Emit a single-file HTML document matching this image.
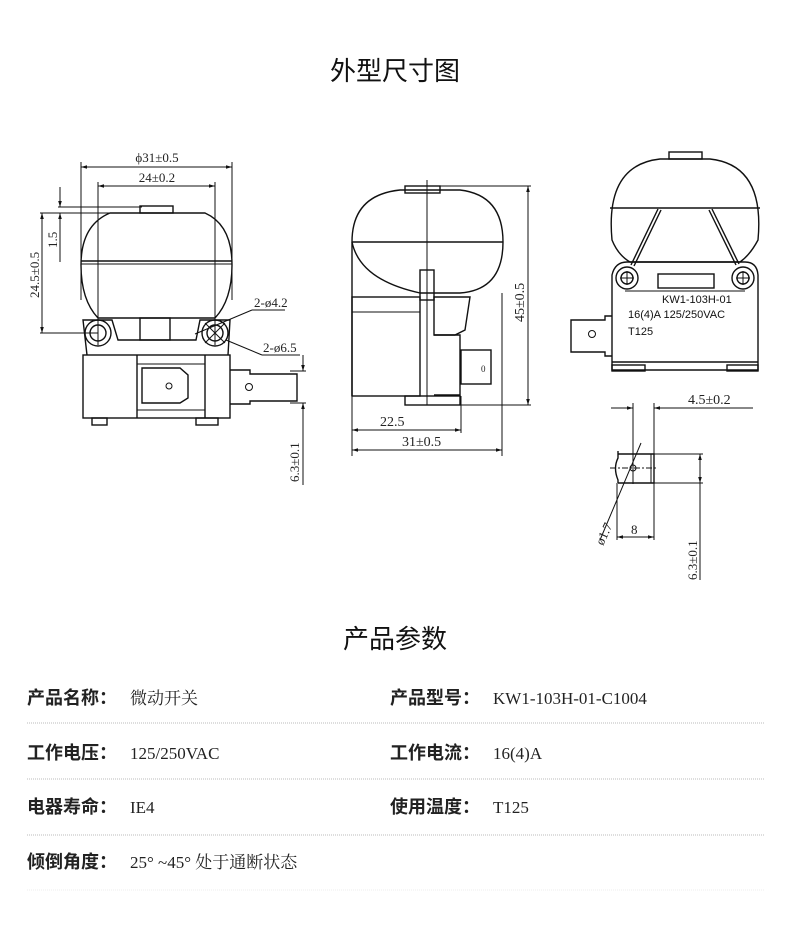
<!DOCTYPE html>
<html><head><meta charset="utf-8"><style>
html,body{margin:0;padding:0;background:#fff;}
svg{display:block}
.t{font-family:"Liberation Serif","Noto Serif CJK SC",serif;fill:#222}
.d{stroke:#111;stroke-width:1;fill:none}
.b{stroke:#111;stroke-width:1.4;fill:none}
.lab{font-family:"Liberation Sans","Noto Sans CJK SC",sans-serif;font-weight:bold;font-size:18px;fill:#222}
.val{font-family:"Liberation Serif","Noto Serif CJK SC",serif;font-size:17px;fill:#222}
</style></head><body>
<svg width="790" height="945" viewBox="0 0 790 945" xmlns="http://www.w3.org/2000/svg">
<defs><marker id="a" viewBox="0 0 10 10" refX="10" refY="5" markerWidth="8" markerHeight="6" orient="auto-start-reverse"><path d="M0,2 L10,5 L0,8z" fill="#111"/></marker></defs>
<text x="395" y="80" text-anchor="middle" style="font-family:'Liberation Sans','Noto Sans CJK SC',sans-serif;font-size:26px;fill:#111">外型尺寸图</text>
<text x="395" y="648" text-anchor="middle" style="font-family:'Liberation Sans','Noto Sans CJK SC',sans-serif;font-size:26px;fill:#111">产品参数</text>

<!-- Drawing 1 -->
<g>
<line class="d" x1="81" y1="167" x2="232" y2="167" marker-start="url(#a)" marker-end="url(#a)"/>
<text class="t" x="157" y="162" text-anchor="middle" font-size="13">ϕ31±0.5</text>
<line class="d" x1="98" y1="186" x2="215" y2="186" marker-start="url(#a)" marker-end="url(#a)"/>
<text class="t" x="157" y="182" text-anchor="middle" font-size="13">24±0.2</text>
<line class="d" x1="81" y1="162" x2="81" y2="300"/><line class="d" x1="232" y1="162" x2="232" y2="300"/>
<line class="d" x1="98" y1="182" x2="98" y2="345"/><line class="d" x1="215" y1="182" x2="215" y2="345"/>
<line class="d" x1="58" y1="207" x2="142" y2="207"/><line class="d" x1="40" y1="213" x2="130" y2="213"/>
<line class="d" x1="60" y1="187" x2="60" y2="207" marker-end="url(#a)"/><line class="d" x1="60" y1="226" x2="60" y2="213" marker-end="url(#a)"/>
<line class="d" x1="60" y1="213" x2="60" y2="262"/>
<text class="t" font-size="13" transform="translate(57,248) rotate(-90)">1.5</text>
<line class="d" x1="42" y1="213" x2="42" y2="333" marker-start="url(#a)" marker-end="url(#a)"/>
<line class="d" x1="40" y1="333" x2="98" y2="333"/>
<text class="t" font-size="13" transform="translate(39,298) rotate(-90)">24.5±0.5</text>
<rect class="b" x="140" y="206" width="33" height="7"/>
<path class="b" d="M110,213 L205,213 Q232,225 232,265 Q232,300 215,318 L98,318 Q81,300 81,265 Q81,225 110,213Z"/>
<line class="b" x1="81" y1="261" x2="232" y2="261"/><line class="d" x1="81" y1="264" x2="232" y2="264"/>
<path class="b" d="M87,355 L83,320 L112,320 L118,340 L196,340 L200,320 L230,320 L228,355"/>
<rect class="b" x="140" y="318" width="30" height="22"/>
<circle class="b" cx="98" cy="333" r="13"/><circle class="b" cx="98" cy="333" r="8"/>
<circle class="b" cx="215" cy="333" r="13"/><circle class="b" cx="215" cy="333" r="8"/>
<line class="d" x1="205" y1="323" x2="225" y2="343"/><line class="d" x1="205" y1="343" x2="225" y2="323"/>
<rect class="b" x="83" y="355" width="147" height="63"/>
<line class="b" x1="137" y1="355" x2="137" y2="418"/><line class="b" x1="205" y1="355" x2="205" y2="418"/>
<line class="d" x1="137" y1="364" x2="205" y2="364"/><line class="d" x1="137" y1="410" x2="205" y2="410"/>
<path class="b" d="M142,368 L180,368 L188,375 L188,398 L180,403 L142,403Z"/>
<circle class="d" cx="169" cy="386" r="3"/>
<path class="b" d="M230,370 L250,370 L250,374 L297,374 L297,401 L250,401 L250,404 L230,404"/>
<circle class="d" cx="249" cy="387" r="3.5"/>
<rect class="b" x="92" y="418" width="15" height="7"/><rect class="b" x="196" y="418" width="22" height="7"/>
<line class="d" x1="290" y1="371" x2="306" y2="371"/><line class="d" x1="290" y1="403" x2="306" y2="403"/>
<line class="d" x1="303" y1="355" x2="303" y2="371" marker-end="url(#a)"/>
<line class="d" x1="303" y1="403" x2="303" y2="485"/>
<line class="d" x1="303" y1="420" x2="303" y2="403" marker-end="url(#a)"/>
<text class="t" font-size="13" transform="translate(299,482) rotate(-90)">6.3±0.1</text>
<line class="d" x1="195" y1="334" x2="252" y2="310"/><line class="d" x1="252" y1="310" x2="285" y2="310"/>
<text class="t" x="254" y="307" font-size="13">2-ø4.2</text>
<line class="d" x1="226" y1="340" x2="262" y2="355"/><line class="d" x1="262" y1="355" x2="300" y2="355"/>
<text class="t" x="263" y="352" font-size="13">2-ø6.5</text>
</g>

<!-- Drawing 2 -->
<g>
<rect class="b" x="405" y="186" width="35" height="7"/>
<path class="b" d="M352,242 Q352,195 400,190 L460,190 Q503,195 503,242 Q503,290 460,293 L420,293 Q360,280 352,242Z"/>
<line class="b" x1="352" y1="242" x2="503" y2="242"/>
<rect class="b" x="352" y="297" width="68" height="99"/>
<line class="b" x1="352" y1="242" x2="352" y2="396"/>
<line class="d" x1="352" y1="312" x2="420" y2="312"/>
<rect class="b" x="420" y="270" width="14" height="30"/>
<path class="b" d="M434,297 L470,297 L465,330 L455,335 L434,335Z"/>
<path class="b" d="M434,335 L460,335 L460,395 L434,395"/>
<rect class="b" x="461" y="350" width="30" height="34"/>
<text class="t" x="481" y="372" font-size="9">0</text>
<rect class="b" x="405" y="396" width="55" height="9"/>
<line class="d" x1="427" y1="180" x2="427" y2="405"/>
<line class="d" x1="440" y1="186" x2="531" y2="186"/><line class="d" x1="460" y1="405" x2="531" y2="405"/>
<line class="d" x1="528" y1="186" x2="528" y2="405" marker-start="url(#a)" marker-end="url(#a)"/>
<text class="t" font-size="14" transform="translate(524,322) rotate(-90)">45±0.5</text>
<line class="d" x1="352" y1="396" x2="352" y2="456"/><line class="d" x1="461" y1="396" x2="461" y2="433"/><line class="d" x1="502" y1="293" x2="502" y2="456"/>
<line class="d" x1="352" y1="430" x2="461" y2="430" marker-start="url(#a)" marker-end="url(#a)"/>
<text class="t" x="380" y="426" font-size="14">22.5</text>
<line class="d" x1="352" y1="450" x2="502" y2="450" marker-start="url(#a)" marker-end="url(#a)"/>
<text class="t" x="402" y="446" font-size="14">31±0.5</text>
</g>

<!-- Drawing 3 -->
<g>
<rect class="b" x="669" y="152" width="33" height="7"/>
<path class="b" d="M612,240 Q605,165 660,159 L710,159 Q765,165 758,240 Q750,255 740,262 L630,262 Q618,255 612,240Z"/>
<line class="b" x1="610" y1="208" x2="760" y2="208"/>
<line class="b" x1="658" y1="209" x2="631" y2="265"/><line class="b" x1="661" y1="210" x2="634" y2="266"/>
<line class="b" x1="712" y1="209" x2="739" y2="264"/><line class="b" x1="709" y1="210" x2="736" y2="265"/>
<path class="b" d="M612,370 L612,275 Q615,262 627,262 L745,262 Q757,262 758,275 L758,370 Z"/>
<circle class="b" cx="627" cy="278" r="11"/><circle class="b" cx="627" cy="278" r="6"/>
<circle class="b" cx="743" cy="278" r="11"/><circle class="b" cx="743" cy="278" r="6"/>
<line class="d" x1="620" y1="278" x2="634" y2="278"/><line class="d" x1="627" y1="271" x2="627" y2="285"/>
<line class="d" x1="736" y1="278" x2="750" y2="278"/><line class="d" x1="743" y1="271" x2="743" y2="285"/>
<rect class="b" x="658" y="274" width="56" height="14"/>
<line class="d" x1="625" y1="291" x2="745" y2="291"/>
<text x="662" y="303" font-size="11" style="font-family:'Liberation Sans',sans-serif;fill:#111">KW1-103H-01</text>
<text x="628" y="318" font-size="11" style="font-family:'Liberation Sans',sans-serif;fill:#111">16(4)A 125/250VAC</text>
<text x="628" y="335" font-size="11" style="font-family:'Liberation Sans',sans-serif;fill:#111">T125</text>
<line class="b" x1="612" y1="362" x2="758" y2="362"/>
<rect class="b" x="612" y="365" width="33" height="6"/><rect class="b" x="727" y="365" width="31" height="6"/>
<path class="b" d="M612,316 L605,316 L605,320 L571,320 L571,352 L605,352 L605,356 L612,356"/>
<circle class="d" cx="592" cy="334" r="3.5"/>
</g>

<!-- detail -->
<g>
<line class="d" x1="611" y1="408" x2="633" y2="408" marker-end="url(#a)"/>
<line class="d" x1="675" y1="408" x2="654" y2="408" marker-end="url(#a)"/>
<line class="d" x1="654" y1="408" x2="753" y2="408"/>
<text class="t" x="688" y="404" font-size="14">4.5±0.2</text>
<line class="d" x1="633" y1="403" x2="633" y2="484"/><line class="d" x1="654" y1="403" x2="654" y2="540"/>
<path class="b" d="M618,451 L618,458 Q613,468 618,480 L618,483 M618,454 L654,454 L654,483 L618,483"/>
<line class="d" x1="651" y1="454" x2="651" y2="483"/>
<line class="d" x1="610" y1="468" x2="658" y2="468" stroke-dasharray="6,2,2,2"/>
<circle class="d" cx="633" cy="468" r="3"/>
<line class="d" x1="641" y1="443" x2="600" y2="540"/>
<text class="t" font-size="13" transform="translate(603,546) rotate(-65)">ø1.7</text>
<line class="d" x1="617" y1="483" x2="617" y2="540"/>
<line class="d" x1="617" y1="537" x2="654" y2="537" marker-start="url(#a)" marker-end="url(#a)"/>
<text class="t" x="631" y="534" font-size="13">8</text>
<line class="d" x1="654" y1="454" x2="703" y2="454"/><line class="d" x1="654" y1="483" x2="703" y2="483"/>
<line class="d" x1="700" y1="454" x2="700" y2="483" marker-start="url(#a)" marker-end="url(#a)"/>
<line class="d" x1="700" y1="483" x2="700" y2="580"/>
<text class="t" font-size="13" transform="translate(697,580) rotate(-90)">6.3±0.1</text>
</g>

<!-- params -->
<text class="lab" x="27" y="704">产品名称：</text><text class="val" x="130" y="704">微动开关</text>
<text class="lab" x="390" y="704">产品型号：</text><text class="val" x="493" y="704">KW1-103H-01-C1004</text>
<line x1="27" y1="723" x2="765" y2="723" stroke="#bbb" stroke-dasharray="1,1"/>
<text class="lab" x="27" y="759">工作电压：</text><text class="val" x="130" y="759">125/250VAC</text>
<text class="lab" x="390" y="759">工作电流：</text><text class="val" x="493" y="759">16(4)A</text>
<line x1="27" y1="779" x2="765" y2="779" stroke="#bbb" stroke-dasharray="1,1"/>
<text class="lab" x="27" y="813">电器寿命：</text><text class="val" x="130" y="813">IE4</text>
<text class="lab" x="390" y="813">使用温度：</text><text class="val" x="493" y="813">T125</text>
<line x1="27" y1="835" x2="765" y2="835" stroke="#bbb" stroke-dasharray="1,1"/>
<text class="lab" x="27" y="868">倾倒角度：</text><text class="val" x="130" y="868">25° ~45° 处于通断状态</text>
<line x1="27" y1="890" x2="765" y2="890" stroke="#eee" stroke-dasharray="1,1"/>
</svg>
</body></html>
